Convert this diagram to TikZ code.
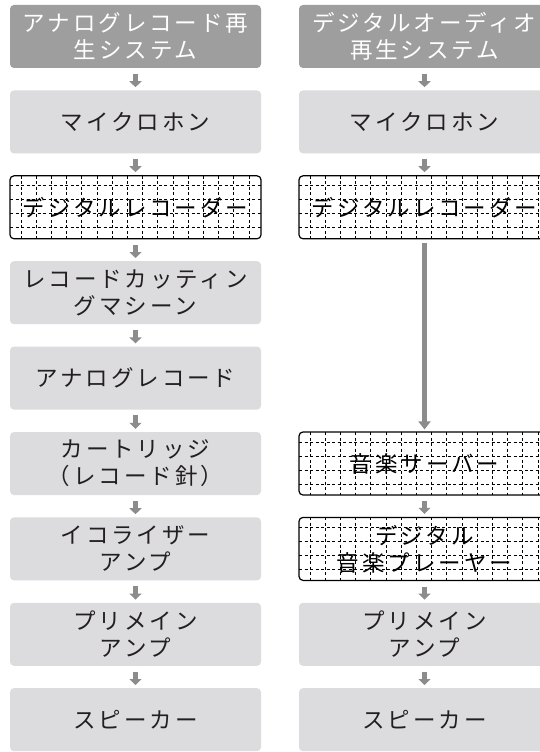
\documentclass[tikz,border=0pt]{standalone}
\usepackage{fontspec}
\newfontfamily\jp[LetterSpace=13]{Noto Sans CJK JP}
\usetikzlibrary{arrows.meta}
\definecolor{hdr}{HTML}{9E9E9E}
\definecolor{lbox}{HTML}{DCDCDE}
\definecolor{arr}{HTML}{8C8C8C}
\definecolor{txt}{HTML}{231F20}
\begin{document}
\begin{tikzpicture}[x=1pt,y=-1pt,
  base/.style={rounded corners=4pt, minimum width=251pt, minimum height=63pt,
    inner sep=0pt, align=center, font=\jp\fontsize{22.5}{27}\selectfont},
  hdrbox/.style={base, fill=hdr, text=white},
  lightbox/.style={base, fill=lbox, text=txt},
  gridline/.style={draw=black, line width=0.7pt, dash pattern=on 3pt off 2.5pt},
  gridbox/.style={base, fill=white, draw=black, line width=1.2pt, text=black,
    path picture={
      \foreach \k in {0,...,15}
        \draw[gridline] ([xshift=11pt+\k*15.2pt]path picture bounding box.north west)
          -- ([xshift=11pt+\k*15.2pt]path picture bounding box.south west);
      \foreach \k in {0,...,3}
        \draw[gridline] ([yshift=-10pt-\k*14pt]path picture bounding box.north west)
          -- ([yshift=-10pt-\k*14pt]path picture bounding box.north east);
    }},
  flow/.style={draw=arr, line width=5pt, -{Triangle[width=12pt,length=6pt]},
    shorten <=5.5pt, shorten >=3pt},
  longflow/.style={draw=arr, line width=5pt, -{Triangle[width=12pt,length=8pt]},
    shorten <=4pt, shorten >=2pt},
]
\useasboundingbox (0,0) rectangle (540,752);
\fill[white] (0,0) rectangle (540,752);
\clip (0,0) rectangle (540,752);
% left column
\node[hdrbox]   (L0) at (135.5, 36.5) {アナログレコード再\\生システム};
\node[lightbox] (L1) at (135.5,121.9) {マイクロホン};
\node[gridbox]  (L2) at (135.5,207.3) {デジタルレコーダー};
\node[lightbox] (L3) at (135.5,292.7) {レコードカッティン\\グマシーン};
\node[lightbox] (L4) at (135.5,378.1) {アナログレコード};
\node[lightbox] (L5) at (135.5,463.5) {カートリッジ\\（レコード針）};
\node[lightbox] (L6) at (135.5,548.9) {イコライザー\\アンプ};
\node[lightbox] (L7) at (135.5,634.3) {プリメイン\\アンプ};
\node[lightbox] (L8) at (135.5,719.7) {スピーカー};
% right column
\node[hdrbox]   (R0) at (424.5, 36.5) {デジタルオーディオ\\再生システム};
\node[lightbox] (R1) at (424.5,121.9) {マイクロホン};
\node[gridbox]  (R2) at (424.5,207.3) {デジタルレコーダー};
\node[gridbox]  (R5) at (424.5,463.5) {音楽サーバー};
\node[gridbox]  (R6) at (424.5,548.9) {デジタル\\音楽プレーヤー};
\node[lightbox] (R7) at (424.5,634.3) {プリメイン\\アンプ};
\node[lightbox] (R8) at (424.5,719.7) {スピーカー};
% arrows
\foreach \a/\b in {L0/L1,L1/L2,L2/L3,L3/L4,L4/L5,L5/L6,L6/L7,L7/L8,
                   R0/R1,R1/R2,R5/R6,R6/R7,R7/R8}
  \draw[flow] (\a) -- (\b);
\draw[longflow] (R2) -- (R5);
\end{tikzpicture}
\end{document}
